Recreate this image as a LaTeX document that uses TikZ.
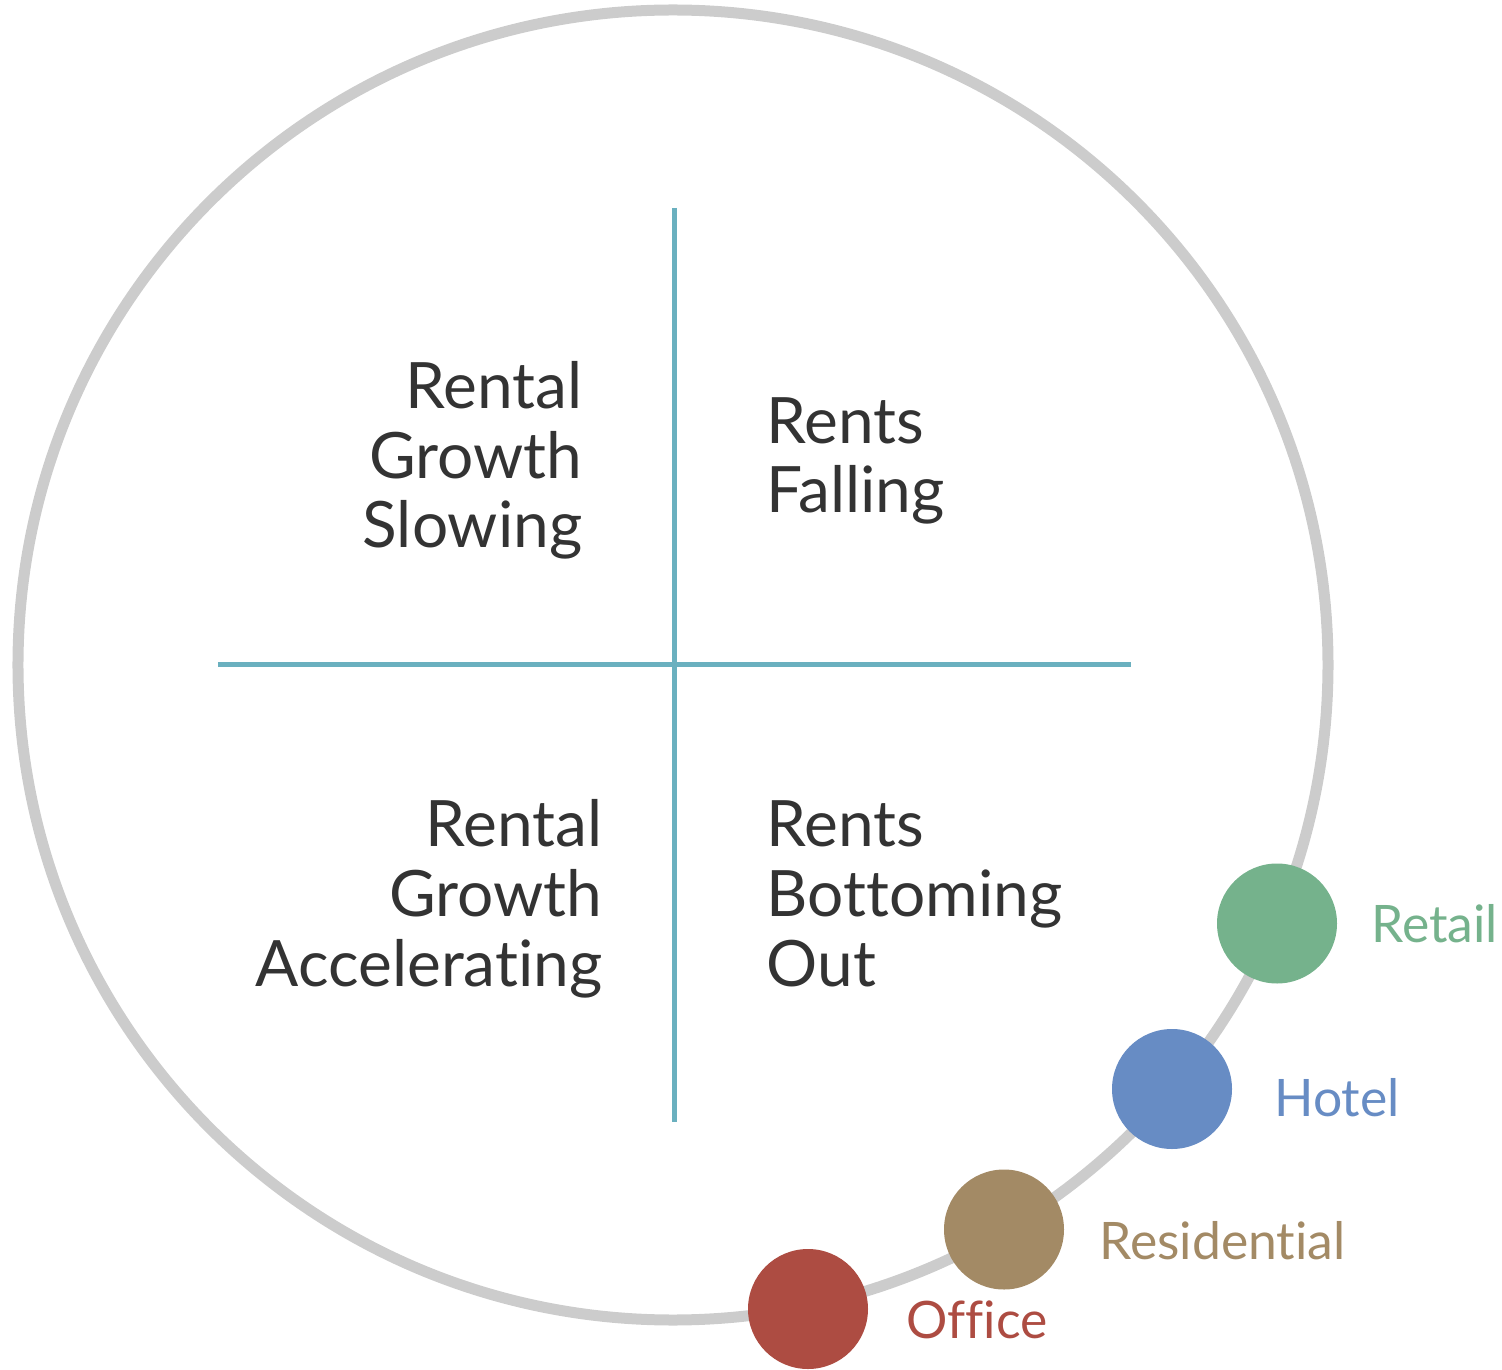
\documentclass[tikz,border=0pt]{standalone}
\usepackage{fontspec}
\setmainfont[Ligatures=NoCommon]{Lato}
\usepackage{xcolor}
\usetikzlibrary{positioning}

\definecolor{ringgray}{HTML}{CCCCCC}
\definecolor{axisteal}{HTML}{6AB0BF}
\definecolor{textgray}{HTML}{333333}
\definecolor{retailc}{HTML}{75B28C}
\definecolor{hotelc}{HTML}{678CC4}
\definecolor{residc}{HTML}{A38A65}
\definecolor{officec}{HTML}{AD4C42}

\begin{document}
\begin{tikzpicture}[
        quad/.style={inner sep=0pt, text=textgray, font=\fontsize{18.2}{19.9}\selectfont},
        axis/.style={draw=axisteal, line width=0.05cm},
        dot/.style={circle, inner sep=0pt, minimum size=1.2cm},
        tag/.style={inner sep=0pt, font=\fontsize{14.7}{17}\selectfont}]
    \useasboundingbox (-6.73,-7.04) rectangle (8.29,6.65);

    \node[circle, draw=ringgray, line width=0.11cm, minimum size=13.1cm, inner sep=0pt, outer sep=0pt](ring) at (0,0){};

    % the two axes
    \coordinate (N) at (0.015,4.57);
    \coordinate (S) at (0.015,-4.57);
    \coordinate (W) at (-4.55,0);
    \coordinate (E) at (4.58,0);
    \path[axis] (N) -- (S);
    \path[axis] (W) -- (E);

    % base of a multi-line node is its last line
    \node[quad, anchor=base east, align=right](NW) at (-0.90,1.17){Rental\\Growth\\Slowing};
    \node[quad, anchor=base west, align=left](NE) at (0.93,1.52){Rents\\Falling};
    \node[quad, anchor=base east, align=right](SW) at (-0.70,-3.21){Rental\\Growth\\Accelerating};
    \node[quad, anchor=base west, align=left](SE) at (0.93,-3.21){Rents\\Bottoming\\Out};

    % sectors sitting on the ring
    \node[dot, fill=retailc](retail) at (6.04,-2.585){};
    \node[dot, fill=hotelc](hotel) at (4.99,-4.24){};
    \node[dot, fill=residc](resid) at (3.31,-5.645){};
    \node[dot, fill=officec](office) at (1.35,-6.44){};

    \node[tag, text=retailc, right=0.33cm of retail](retail_l){Retail};
    \node[tag, text=hotelc, right=0.41cm of hotel, yshift=-0.09cm](hotel_l){Hotel};
    \node[tag, text=residc, right=0.34cm of resid, yshift=-0.11cm](resid_l){Residential};
    \node[tag, text=officec, right=0.37cm of office, yshift=-0.11cm](office_l){Office};
\end{tikzpicture}
\end{document}
